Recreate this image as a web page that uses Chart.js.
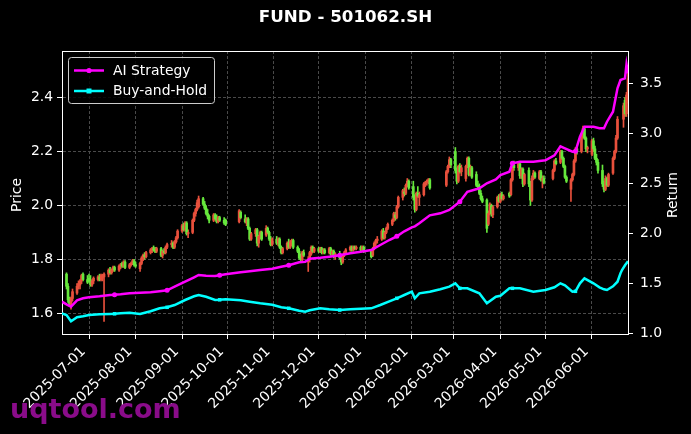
<!DOCTYPE html>
<html>
<head>
<meta charset="utf-8">
<title>FUND - 501062.SH</title>
<script src="https://cdn.jsdelivr.net/npm/chart.js@4.4.0/dist/chart.umd.min.js"></script>
<style>
  html, body { margin: 0; padding: 0; background: #000; }
  #wrap { width: 691px; height: 434px; }
</style>
</head>
<body>
<div id="wrap"><canvas id="chart" width="691" height="434"></canvas></div>
<script>
// ==================== DATA ====================
// x values are calendar days counted from 2025-06-13
const monthTicks = [18, 49, 80, 110, 141, 171, 202, 233, 261, 292, 322, 353];
const monthLabels = ['2025-07-01', '2025-08-01', '2025-09-01', '2025-10-01', '2025-11-01', '2025-12-01',
                     '2026-01-01', '2026-02-01', '2026-03-01', '2026-04-01', '2026-05-01', '2026-06-01'];
const priceTicks = [1.6, 1.8, 2.0, 2.2, 2.4];
const returnTicks = [1.0, 1.5, 2.0, 2.5, 3.0, 3.5];

const candleDays = [
  3,4,5,6,7,10,11,12,13,14,17,
  18,19,20,21,24,25,26,27,28,31,32,33,34,35,38,39,40,41,42,45,46,47,48,
  49,52,53,54,55,56,59,60,61,62,63,66,67,68,69,70,73,74,75,76,77,
  80,81,82,83,84,87,88,89,90,91,94,95,96,97,98,101,102,103,104,105,108,109,
  118,119,122,123,124,125,126,129,130,131,132,133,136,137,138,139,140,
  143,144,145,146,147,150,151,152,153,154,157,158,159,160,161,164,165,166,167,168,
  171,172,173,174,175,178,179,180,181,182,185,186,187,188,189,192,193,194,195,196,199,200,201,
  206,207,208,209,210,213,214,215,216,217,220,221,222,223,224,227,228,229,230,231,
  234,235,236,237,238,241,242,243,244,245,256,257,258,259,
  262,263,264,265,266,269,270,271,272,273,276,277,278,279,280,283,284,285,286,287,290,291,
  292,293,294,298,299,300,301,304,305,306,307,308,311,312,313,314,315,318,319,320,321,
  327,328,329,332,333,334,335,336,339,340,341,342,343,346,347,348,349,350,
  353,354,355,356,357,360,361,362,363,364,367,368,369,370,374,375,376,377
];
const opens = [
  1.745,1.70,1.65,1.63,1.655,1.675,1.70,1.705,1.72,1.745,1.725,
  1.73,1.72,1.705,1.72,1.725,1.735,1.725,1.73,1.735,1.745,1.76,1.75,1.76,1.77,1.76,1.775,1.785,1.775,1.79,1.77,1.78,1.785,1.795,
  1.78,1.765,1.785,1.80,1.815,1.81,1.825,1.835,1.84,1.835,1.83,1.84,1.815,1.83,1.825,1.845,1.855,1.86,1.845,1.865,1.88,
  1.905,1.925,1.91,1.935,1.895,1.90,1.945,1.97,1.985,1.995,2.025,2.005,1.99,1.97,1.96,1.945,1.965,1.95,1.94,1.955,1.945,1.945,
  1.94,1.975,1.95,1.935,1.95,1.915,1.875,1.895,1.91,1.86,1.885,1.90,1.89,1.915,1.90,1.875,1.855,
  1.875,1.86,1.875,1.845,1.825,1.84,1.86,1.845,1.865,1.87,1.845,1.83,1.805,1.80,1.825,1.79,1.80,1.82,1.845,1.83,
  1.84,1.83,1.84,1.825,1.835,1.825,1.84,1.82,1.83,1.81,1.82,1.805,1.79,1.815,1.825,1.835,1.845,1.835,1.845,1.84,1.845,1.835,1.845,
  1.83,1.815,1.84,1.86,1.87,1.875,1.905,1.88,1.90,1.915,1.93,1.945,1.965,1.955,1.995,2.03,2.05,2.045,2.075,2.09,
  2.07,2.03,1.985,2.045,2.03,2.04,2.08,2.085,2.09,2.095,2.075,2.125,2.145,2.17,
  2.20,2.13,2.09,2.145,2.125,2.10,2.145,2.175,2.115,2.14,2.115,2.075,2.07,2.045,2.025,2.02,1.93,1.97,2.00,1.965,1.995,2.03,
  2.015,2.04,2.025,2.045,2.04,2.095,2.15,2.14,2.155,2.11,2.135,2.08,2.13,2.08,2.02,2.10,2.12,2.10,2.125,2.095,2.10,
  2.10,2.13,2.165,2.16,2.20,2.175,2.145,2.105,2.06,2.095,2.115,2.165,2.21,2.20,2.255,2.285,2.25,2.21,
  2.19,2.24,2.21,2.175,2.16,2.13,2.08,2.06,2.10,2.075,2.12,2.175,2.20,2.25,2.32,2.39,2.34,2.41
];
const highs = [
  1.75,1.71,1.66,1.66,1.69,1.71,1.72,1.725,1.745,1.75,1.74,
  1.745,1.74,1.725,1.735,1.74,1.745,1.745,1.745,1.75,1.765,1.77,1.765,1.775,1.775,1.78,1.785,1.79,1.795,1.795,1.785,1.79,1.80,1.80,
  1.79,1.79,1.81,1.82,1.825,1.83,1.84,1.845,1.85,1.845,1.845,1.845,1.835,1.84,1.85,1.86,1.87,1.865,1.87,1.885,1.91,
  1.93,1.935,1.94,1.94,1.91,1.95,1.975,1.99,2.02,2.035,2.03,2.015,2.00,1.985,1.965,1.97,1.97,1.965,1.96,1.96,1.955,1.95,
  1.985,1.98,1.965,1.955,1.955,1.92,1.90,1.915,1.915,1.89,1.905,1.905,1.925,1.92,1.905,1.885,1.88,
  1.885,1.88,1.88,1.85,1.845,1.865,1.875,1.87,1.875,1.875,1.85,1.84,1.82,1.83,1.835,1.81,1.83,1.85,1.85,1.845,
  1.845,1.845,1.845,1.84,1.84,1.845,1.845,1.835,1.835,1.825,1.83,1.815,1.82,1.83,1.84,1.85,1.85,1.85,1.85,1.85,1.85,1.85,1.85,
  1.835,1.845,1.865,1.875,1.885,1.91,1.915,1.905,1.92,1.935,1.95,1.975,1.975,2.00,2.035,2.06,2.065,2.08,2.10,2.095,
  2.09,2.04,2.05,2.07,2.05,2.085,2.09,2.095,2.10,2.10,2.13,2.15,2.18,2.175,
  2.215,2.14,2.15,2.155,2.15,2.15,2.18,2.18,2.15,2.145,2.125,2.09,2.08,2.055,2.035,2.025,1.98,2.01,2.005,2.00,2.035,2.04,
  2.045,2.05,2.04,2.05,2.10,2.16,2.165,2.16,2.16,2.14,2.14,2.12,2.14,2.09,2.11,2.13,2.125,2.13,2.13,2.11,2.11,
  2.135,2.17,2.175,2.205,2.205,2.18,2.15,2.11,2.10,2.12,2.17,2.215,2.22,2.26,2.295,2.29,2.255,2.22,
  2.245,2.25,2.22,2.19,2.17,2.15,2.09,2.11,2.105,2.12,2.18,2.205,2.26,2.33,2.38,2.40,2.42,2.52
];
const lows = [
  1.69,1.64,1.625,1.615,1.645,1.67,1.69,1.69,1.71,1.72,1.71,
  1.715,1.70,1.70,1.71,1.72,1.72,1.72,1.72,1.57,1.735,1.745,1.745,1.755,1.755,1.755,1.765,1.77,1.77,1.765,1.765,1.775,1.78,1.775,
  1.77,1.755,1.78,1.795,1.80,1.805,1.82,1.825,1.83,1.825,1.825,1.81,1.805,1.82,1.82,1.84,1.845,1.84,1.84,1.86,1.875,
  1.90,1.905,1.905,1.89,1.88,1.895,1.94,1.96,1.98,1.99,2.00,1.985,1.965,1.95,1.935,1.94,1.945,1.935,1.935,1.94,1.93,1.925,
  1.935,1.95,1.935,1.925,1.91,1.87,1.87,1.885,1.85,1.845,1.875,1.87,1.885,1.895,1.87,1.85,1.85,
  1.855,1.85,1.84,1.82,1.82,1.835,1.84,1.84,1.85,1.84,1.825,1.80,1.79,1.795,1.81,1.755,1.79,1.815,1.825,1.825,
  1.825,1.825,1.82,1.82,1.82,1.82,1.815,1.81,1.805,1.80,1.80,1.78,1.785,1.81,1.82,1.83,1.83,1.83,1.835,1.835,1.83,1.83,1.825,
  1.805,1.81,1.835,1.85,1.86,1.87,1.875,1.875,1.895,1.91,1.925,1.94,1.945,1.95,1.99,2.02,2.035,2.04,2.07,2.06,
  2.02,1.975,1.98,2.03,2.00,2.035,2.07,2.075,2.08,2.06,2.07,2.12,2.14,2.14,
  2.12,2.08,2.085,2.12,2.11,2.09,2.14,2.11,2.11,2.10,2.07,2.06,2.04,2.02,2.01,1.90,1.925,1.965,1.96,1.955,1.99,2.01,
  2.01,2.02,2.02,2.03,2.035,2.09,2.13,2.13,2.10,2.10,2.07,2.075,2.07,2.00,2.015,2.095,2.10,2.095,2.09,2.065,2.08,
  2.095,2.125,2.15,2.155,2.17,2.14,2.10,2.085,2.015,2.09,2.11,2.16,2.19,2.195,2.25,2.245,2.20,2.195,
  2.185,2.20,2.17,2.15,2.12,2.07,2.05,2.055,2.07,2.07,2.115,2.17,2.195,2.245,2.29,2.33,2.33,2.38
];
const closes = [
  1.70,1.65,1.635,1.655,1.68,1.70,1.71,1.72,1.74,1.725,1.715,
  1.72,1.705,1.72,1.73,1.735,1.725,1.74,1.74,1.745,1.76,1.75,1.76,1.77,1.76,1.775,1.78,1.775,1.79,1.77,1.78,1.785,1.795,1.78,
  1.775,1.785,1.805,1.815,1.81,1.825,1.835,1.84,1.835,1.83,1.84,1.815,1.83,1.825,1.845,1.855,1.86,1.845,1.865,1.88,1.905,
  1.925,1.91,1.935,1.895,1.90,1.945,1.97,1.985,2.01,2.025,2.005,1.99,1.97,1.96,1.945,1.965,1.95,1.94,1.955,1.945,1.935,1.93,
  1.98,1.955,1.94,1.95,1.915,1.875,1.895,1.91,1.86,1.885,1.90,1.875,1.915,1.90,1.875,1.855,1.875,
  1.86,1.875,1.845,1.825,1.84,1.86,1.845,1.865,1.87,1.845,1.83,1.805,1.80,1.825,1.815,1.80,1.825,1.845,1.83,1.84,
  1.83,1.84,1.825,1.835,1.825,1.84,1.82,1.83,1.81,1.82,1.805,1.79,1.815,1.825,1.835,1.845,1.835,1.845,1.84,1.845,1.835,1.845,1.83,
  1.81,1.84,1.86,1.87,1.875,1.905,1.88,1.90,1.915,1.93,1.945,1.97,1.955,1.995,2.03,2.055,2.045,2.075,2.09,2.065,
  2.03,1.985,2.045,2.035,2.04,2.08,2.085,2.09,2.095,2.065,2.125,2.145,2.17,2.15,
  2.13,2.09,2.145,2.125,2.14,2.145,2.175,2.115,2.14,2.105,2.075,2.07,2.045,2.025,2.015,1.915,1.97,2.005,1.97,1.995,2.03,2.015,
  2.04,2.025,2.035,2.035,2.095,2.155,2.14,2.155,2.11,2.135,2.08,2.115,2.08,2.02,2.10,2.12,2.105,2.125,2.095,2.10,2.085,
  2.13,2.165,2.155,2.20,2.175,2.145,2.105,2.09,2.095,2.115,2.165,2.21,2.20,2.255,2.285,2.25,2.21,2.215,
  2.24,2.21,2.175,2.16,2.13,2.08,2.06,2.10,2.075,2.115,2.175,2.20,2.25,2.32,2.37,2.34,2.41,2.47
];

const lineDays = [0,3,6,10,14,18,25,32,35,39,45,52,59,65,70,75,82,88,91,96,102,105,109,119,125,132,140,146,151,
  158,162,165,172,178,185,192,199,206,212,218,223,228,233,235,238,245,252,258,262,265,270,278,283,289,292,298,300,
  305,314,322,328,332,335,340,342,345,348,354,358,361,363,367,370,372,373,375,376,377];
const aiReturn = [1.316,1.29,1.266,1.33,1.35,1.36,1.37,1.383,1.385,1.39,1.40,1.405,1.41,1.42,1.43,1.466,1.516,1.56,1.583,
  1.575,1.573,1.58,1.59,1.61,1.62,1.633,1.645,1.666,1.68,
  1.71,1.715,1.745,1.755,1.766,1.78,1.80,1.816,1.833,1.883,1.933,1.97,2.02,2.06,2.07,2.10,2.18,2.20,2.233,2.28,2.316,
  2.416,2.45,2.50,2.54,2.583,2.616,2.70,
  2.716,2.716,2.73,2.78,2.87,2.85,2.816,2.82,2.966,3.066,3.066,3.05,3.05,3.116,3.216,3.45,3.533,3.54,3.55,3.69,3.60];
const bhReturn = [1.20,1.183,1.12,1.16,1.17,1.183,1.19,1.193,1.195,1.20,1.206,1.193,1.22,1.25,1.26,1.283,1.333,1.37,1.383,
  1.366,1.333,1.335,1.34,1.33,1.316,1.30,1.285,1.26,1.25,
  1.225,1.216,1.23,1.25,1.24,1.233,1.24,1.245,1.25,1.283,1.32,1.35,1.383,1.416,1.35,1.40,1.416,1.44,1.466,1.50,1.45,
  1.45,1.40,1.30,1.366,1.375,1.45,1.45,
  1.45,1.416,1.433,1.46,1.50,1.48,1.416,1.42,1.50,1.55,1.50,1.46,1.44,1.433,1.47,1.516,1.60,1.633,1.68,1.70,1.72];
const markerDays = [35, 70, 105, 151, 185, 223, 265, 300, 342];

// ==================== STYLE ====================
const UP_COLOR = '#e8503c';
const DOWN_COLOR = '#66e83c';
const AI_COLOR = '#ff00ff';
const BH_COLOR = '#00ffff';
const GRID_COLOR = '#4a4a4a';
const FONT = "'DejaVu Sans', sans-serif";
const FS = 13.9;

Chart.defaults.font.family = FONT;
Chart.defaults.color = '#ffffff';

const candleColor = (i) => closes[i] >= opens[i] ? UP_COLOR : DOWN_COLOR;
const wickData = candleDays.map((d, i) => ({ x: d, y: [lows[i], highs[i]] }));
const bodyData = candleDays.map((d, i) => ({ x: d, y: [opens[i], closes[i]] }));
const aiData = lineDays.map((d, i) => ({ x: d, y: aiReturn[i] }));
const bhData = lineDays.map((d, i) => ({ x: d, y: bhReturn[i] }));
const markerRadius = (ctx) => (ctx.raw && markerDays.includes(ctx.raw.x)) ? 2.5 : 0;

// ==================== DECOR PLUGIN ====================
const decor = {
  id: 'decor',
  beforeDraw(chart) {
    const c = chart.ctx;
    c.save();
    c.fillStyle = '#000';
    c.fillRect(0, 0, chart.width, chart.height);
    c.restore();
  },
  afterDraw(chart) {
    const c = chart.ctx;
    const a = chart.chartArea;
    c.save();

    // top spine
    c.strokeStyle = '#ffffff';
    c.lineWidth = 1;
    c.beginPath();
    c.moveTo(a.left, Math.round(a.top) + 0.5);
    c.lineTo(a.right, Math.round(a.top) + 0.5);
    c.stroke();

    // legend box
    const bx = 68.5, by = 57.5, bw = 146, bh = 46, r = 3;
    c.beginPath();
    c.moveTo(bx + r, by);
    c.arcTo(bx + bw, by, bx + bw, by + bh, r);
    c.arcTo(bx + bw, by + bh, bx, by + bh, r);
    c.arcTo(bx, by + bh, bx, by, r);
    c.arcTo(bx, by, bx + bw, by, r);
    c.closePath();
    c.fillStyle = 'rgba(0,0,0,0.85)';
    c.fill();
    c.strokeStyle = '#cccccc';
    c.stroke();

    const entries = [
      { label: 'AI Strategy', color: AI_COLOR, y: 70.5, square: false },
      { label: 'Buy-and-Hold', color: BH_COLOR, y: 91, square: true }
    ];
    c.font = FS + 'px ' + FONT;
    c.textBaseline = 'middle';
    c.textAlign = 'left';
    entries.forEach(e => {
      c.strokeStyle = e.color;
      c.lineWidth = 2.5;
      c.beginPath();
      c.moveTo(74, e.y);
      c.lineTo(104, e.y);
      c.stroke();
      c.fillStyle = e.color;
      if (e.square) {
        c.fillRect(86.5, e.y - 2.5, 5, 5);
      } else {
        c.beginPath();
        c.arc(89, e.y, 2.6, 0, Math.PI * 2);
        c.fill();
      }
      c.fillStyle = '#ffffff';
      c.fillText(e.label, 113, e.y + 0.5);
    });

    // axis titles, both reading bottom to top
    c.fillStyle = '#ffffff';
    c.textAlign = 'center';
    c.textBaseline = 'middle';
    [['Price', 17.5], ['Return', 673.5]].forEach(([t, x]) => {
      c.save();
      c.translate(x, 195);
      c.rotate(-Math.PI / 2);
      c.fillText(t, 0, 0);
      c.restore();
    });

    // watermark
    c.font = 'bold 27px ' + FONT;
    c.textAlign = 'left';
    c.textBaseline = 'alphabetic';
    c.fillStyle = '#8a0c8a';
    c.fillText('uqtool.com', 10, 418);

    c.restore();
  }
};

// ==================== CHART ====================
const tickFont = { size: FS, family: FONT };

new Chart(document.getElementById('chart').getContext('2d'), {
  type: 'line',
  data: {
    datasets: [
      {
        type: 'line', label: 'AI Strategy', data: aiData, yAxisID: 'y2', order: 0,
        borderColor: AI_COLOR, backgroundColor: AI_COLOR, borderWidth: 2.5,
        pointRadius: markerRadius, pointStyle: 'circle', pointBorderWidth: 0, tension: 0
      },
      {
        type: 'line', label: 'Buy-and-Hold', data: bhData, yAxisID: 'y2', order: 1,
        borderColor: BH_COLOR, backgroundColor: BH_COLOR, borderWidth: 2.5,
        pointRadius: markerRadius, pointStyle: 'rect', pointBorderWidth: 0, tension: 0
      },
      {
        type: 'bar', label: 'body', data: bodyData, yAxisID: 'y', order: 2,
        backgroundColor: (ctx) => candleColor(ctx.dataIndex),
        barThickness: 2, grouped: false, borderWidth: 0, borderSkipped: false
      },
      {
        type: 'bar', label: 'wick', data: wickData, yAxisID: 'y', order: 3,
        backgroundColor: (ctx) => candleColor(ctx.dataIndex),
        barThickness: 1, grouped: false, borderWidth: 0, borderSkipped: false
      }
    ]
  },
  options: {
    responsive: false,
    animation: false,
    events: [],
    layout: { padding: 0 },
    plugins: {
      legend: { display: false },
      tooltip: { enabled: false },
      title: {
        display: true,
        text: 'FUND - 501062.SH',
        color: '#ffffff',
        font: { size: 16.7, weight: 'bold', family: FONT },
        padding: { top: 8, bottom: 23 }
      }
    },
    scales: {
      x: {
        type: 'linear',
        min: 0,
        max: 377,
        offset: false,
        afterBuildTicks: (s) => { s.ticks = monthTicks.map(v => ({ value: v })); },
        afterFit: (s) => { s.height = 100; },
        ticks: {
          autoSkip: false,
          maxRotation: 45,
          minRotation: 45,
          padding: 4.5,
          labelOffset: -5.5,
          color: '#ffffff',
          font: tickFont,
          callback: (v) => {
            const i = monthTicks.indexOf(v);
            return i >= 0 ? monthLabels[i] : '';
          }
        },
        grid: { color: GRID_COLOR, tickColor: '#ffffff', tickLength: 5, offset: false },
        border: { color: '#ffffff', width: 1, dash: [3, 2] }
      },
      y: {
        type: 'linear',
        position: 'left',
        min: 1.523,
        max: 2.573,
        afterBuildTicks: (s) => { s.ticks = priceTicks.map(v => ({ value: v })); },
        afterFit: (s) => { s.width = 62; },
        ticks: { padding: 4, color: '#ffffff', font: tickFont, callback: (v) => v.toFixed(1) },
        grid: { color: GRID_COLOR, tickColor: '#ffffff', tickLength: 5 },
        border: { color: '#ffffff', width: 1, dash: [3, 2] }
      },
      y2: {
        type: 'linear',
        position: 'right',
        min: 0.993,
        max: 3.823,
        afterBuildTicks: (s) => { s.ticks = returnTicks.map(v => ({ value: v })); },
        afterFit: (s) => { s.width = 63; },
        ticks: { padding: 7, color: '#ffffff', font: tickFont, callback: (v) => v.toFixed(1) },
        grid: { drawOnChartArea: false, color: '#ffffff', tickColor: '#ffffff', tickLength: 5 },
        border: { color: '#ffffff', width: 1 }
      }
    }
  },
  plugins: [decor]
});
</script>
</body>
</html>
